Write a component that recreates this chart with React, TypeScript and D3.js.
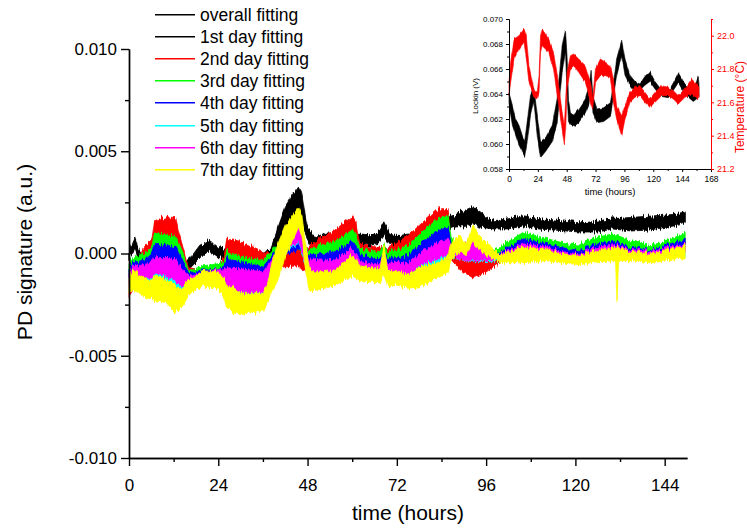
import React, { useEffect, useRef } from "react";
import * as d3 from "d3";

// each band point: [time (hours), low, high]
type Band = [number, number, number];

// main chart values are PD signature in units of 1e-3 a.u.
const MILLI = 0.001;

const overallFit: Band[] = [
  [0, -0.3, 0.1], [1, 0.1, 0.6], [1.5, 0.3, 0.8], [2.2, -0.1, 0.4], [3, -0.5, 0.0], [4.5, -0.6, -0.1],
  [8, -0.2, 0.3], [12, -0.3, 0.2], [14, -0.8, -0.3], [15.5, -0.85, -0.35], [17, -0.6, -0.1], [19, -0.1, 0.4],
  [21, 0.1, 0.6], [22, 0.15, 0.65], [23, 0.0, 0.45], [24, -0.2, 0.3], [26, -0.3, 0.2], [30, -0.4, 0.1],
  [37, -0.4, 0.1], [38.5, -0.3, 0.2], [40, 0.5, 1.3], [42, 1.3, 2.3], [44, 1.8, 2.9], [45.6, 2.2, 3.3],
  [46.3, 1.9, 3.1], [47.8, 0.7, 1.4], [49, 0.3, 0.9], [51, 0.3, 0.8], [53, 0.5, 1.0], [56, 0.5, 1.0],
  [60, 0.4, 0.9], [62.5, 0.45, 0.95], [65, 0.4, 0.9], [67, 0.5, 1.0], [68.5, 0.9, 1.55], [70, 0.45, 0.95],
  [72, 0.4, 0.85], [75, 0.5, 0.95], [80, 0.4, 0.9], [85, 0.4, 0.9], [86, 1.2, 1.8], [88, 1.3, 1.9],
  [90, 1.3, 1.9], [92.5, 1.5, 2.35], [94, 1.3, 1.9], [98, 1.2, 1.6], [102, 1.2, 1.7], [106, 1.35, 1.85],
  [110, 1.2, 1.7], [114, 1.15, 1.65], [121, 1.05, 1.5], [126, 1.05, 1.55], [130, 1.2, 1.75], [135, 1.1, 1.6],
  [140, 1.15, 1.65], [145, 1.3, 1.75], [148, 1.4, 1.9], [149.5, 1.5, 2.0],
];

const firstDayFit: Band[] = [
  [0, -0.25, 0.05], [1.5, 0.35, 0.7], [3, -0.45, -0.05], [8, -0.15, 0.25], [14, -0.75, -0.35], [16, -0.8, -0.4],
  [21, 0.15, 0.55], [24, -0.15, 0.25], [30, -0.35, 0.05], [38, -0.25, 0.15], [42, 1.4, 2.2], [45.6, 2.3, 3.2],
  [47.8, 0.8, 1.3], [50, 0.35, 0.8], [60, 0.45, 0.85], [67, 0.55, 0.95], [68.5, 0.95, 1.5], [70, 0.5, 0.9],
  [80, 0.45, 0.85], [85, 0.45, 0.85], [86, 1.25, 1.75], [92.5, 1.55, 2.3], [98, 1.25, 1.55], [106, 1.4, 1.8],
  [121, 1.1, 1.45], [130, 1.25, 1.7], [149.5, 1.55, 1.95],
];

const secondDayFit: Band[] = [
  [0, -2.1, -1.0], [1, -1.8, -0.8], [2.5, -1.2, -0.3], [4, -0.6, 0.3], [5, -0.5, 0.5], [6.2, -0.3, 0.7],
  [6.8, 0.6, 1.6], [10, 0.6, 1.8], [12.5, 0.5, 1.75], [13.3, 0.0, 1.1], [14.5, -0.8, 0.3], [16, -1.3, -0.7],
  [20, -1.5, -0.8], [24, -1.5, -0.7], [25.6, -1.2, -0.1], [26.3, -0.4, 0.7], [30, -0.5, 0.6], [36, -0.7, 0.1],
  [39, -0.7, 0.0], [42, -0.65, 0.2], [45.6, -0.6, 0.4], [47, -0.9, 0.0], [48.5, -0.3, 0.35], [50, -0.2, 0.6],
  [55, 0.1, 1.1], [60, 0.7, 1.8], [61, 0.5, 1.5], [62, -0.2, 0.45], [65, -0.3, 0.35], [67.5, -0.3, 0.3],
  [68.5, -0.2, 0.4], [69.5, -0.3, 0.25], [72, -0.2, 0.55], [75, 0.1, 0.87], [79, 0.5, 1.53], [83, 1.0, 2.18],
  [85.8, 1.2, 2.2], [86.6, -0.3, 0.2], [89, -0.8, -0.2], [92.5, -1.2, -0.4], [96, -0.9, -0.4], [100, -0.4, 0.0],
  [106, 0.0, 0.6], [112, -0.1, 0.5], [116, -0.2, 0.3], [121, -0.3, 0.2], [126, -0.1, 0.5], [130, 0.0, 0.6],
  [135, -0.1, 0.4], [140, -0.2, 0.3], [145, -0.1, 0.4], [149.5, 0.1, 0.7],
];

const thirdDayFit: Band[] = [
  [0, -1.2, -0.5], [1, -0.9, -0.2], [2.5, -0.8, -0.1], [5, -0.6, 0.1], [6.2, -0.5, 0.3], [6.8, 0.2, 1.0],
  [10, 0.1, 0.9], [12.5, 0.1, 0.85], [13.3, -0.3, 0.5], [14.5, -0.9, 0.0], [16, -1.2, -0.85], [20, -1.2, -0.6],
  [24, -1.1, -0.5], [25.6, -1.0, -0.4], [26.3, -0.6, 0.1], [30, -0.7, -0.15], [36, -0.8, -0.3], [39, -0.3, 0.25],
  [42, 0.0, 0.4], [45.6, 0.2, 0.6], [47, -0.3, 0.2], [48.5, -0.3, 0.15], [50, -0.5, 0.3], [55, -0.2, 0.55],
  [60, 0.3, 1.15], [61, 0.2, 1.0], [62, -0.3, 0.2], [65, -0.3, 0.15], [67.5, -0.3, 0.1], [68.5, -0.1, 0.5],
  [69.5, -0.4, 0.05], [72, -0.4, 0.2], [75, -0.2, 0.35], [79, 0.2, 1.1], [83, 0.6, 1.69], [85.8, 0.8, 1.9],
  [86.6, 0.3, 0.8], [89, -0.1, 0.25], [92.5, -0.2, 0.3], [96, -0.2, 0.1], [100, -0.1, 0.35], [106, 0.3, 1.04],
  [112, 0.1, 0.75], [116, 0.0, 0.55], [121, -0.1, 0.47], [126, 0.1, 0.8], [130, 0.3, 0.96], [135, 0.1, 0.63],
  [140, -0.1, 0.39], [145, 0.1, 0.63], [149.5, 0.3, 1.04],
];

const fourthDayFit: Band[] = [
  [0, -1.4, -0.7], [1, -1.1, -0.4], [2.5, -1.0, -0.4], [5, -0.9, -0.2], [6.2, -0.8, 0.0], [6.8, -0.4, 0.45],
  [10, -0.4, 0.4], [12.5, -0.4, 0.35], [13.3, -0.7, 0.1], [14.5, -1.1, -0.4], [16, -1.4, -0.95], [20, -1.3, -0.8],
  [24, -1.3, -0.8], [25.6, -1.2, -0.6], [26.3, -1.0, -0.25], [30, -1.1, -0.4], [36, -1.2, -0.65], [39, -0.6, 0.0],
  [42, -0.1, 0.5], [45.6, 0.2, 0.87], [47, -0.2, 0.3], [48.5, -0.7, -0.1], [50, -0.8, -0.1], [55, -0.5, 0.06],
  [60, -0.1, 0.6], [61, -0.2, 0.5], [62, -0.5, -0.1], [65, -0.5, -0.2], [67.5, -0.6, -0.25], [68.5, -0.4, 0.1],
  [69.5, -0.6, -0.25], [72, -0.7, -0.2], [75, -0.5, -0.1], [79, -0.3, 0.6], [83, 0.0, 1.1], [85.8, 0.2, 1.3],
  [86.6, 0.1, 0.5], [89, -0.2, 0.2], [92.5, -0.4, 0.0], [96, -0.3, 0.0], [100, -0.2, 0.1], [106, 0.1, 0.71],
  [112, -0.1, 0.5], [116, -0.1, 0.3], [121, -0.2, 0.15], [126, 0.0, 0.47], [130, 0.1, 0.63], [135, -0.1, 0.3],
  [140, -0.2, 0.15], [145, 0.0, 0.39], [149.5, 0.1, 0.71],
];

const fifthDayFit: Band[] = [
  [0, -1.7, -1.0], [1, -1.3, -0.6], [2.5, -1.3, -0.7], [5, -1.4, -0.8], [6.2, -1.5, -0.7], [6.8, -1.5, -0.4],
  [10, -1.5, -0.4], [12.5, -1.7, -0.5], [13.3, -1.8, -0.6], [14.5, -1.8, -0.9], [16, -1.6, -1.1], [20, -1.5, -1.0],
  [24, -1.5, -1.0], [25.6, -1.6, -0.9], [26.3, -1.9, -1.0], [30, -2.2, -1.3], [36, -2.1, -1.5], [39, -1.2, -0.5],
  [42, 0.1, 0.5], [45.6, 0.5, 1.2], [47, -0.4, 0.2], [48.5, -1.0, -0.5], [50, -1.2, -0.5], [55, -1.0, -0.5],
  [60, -0.6, 0.0], [61, -0.7, -0.1], [62, -0.9, -0.5], [65, -0.9, -0.55], [67.5, -1.0, -0.6], [68.5, -0.7, -0.2],
  [69.5, -1.0, -0.6], [72, -1.1, -0.8], [75, -1.15, -0.8], [79, -1.0, -0.5], [83, -0.6, 0.0], [85.8, -0.3, 0.3],
  [86.6, -0.2, 0.2], [89, -0.3, 0.1], [92.5, -0.4, 0.1], [96, -0.4, -0.1], [100, -0.4, -0.1], [106, -0.2, 0.2],
  [112, -0.3, 0.1], [116, -0.4, 0.0], [121, -0.5, -0.05], [126, -0.35, 0.2], [130, -0.3, 0.3], [135, -0.3, 0.1],
  [140, -0.4, 0.0], [145, -0.3, 0.2], [149.5, -0.2, 0.4],
];

const sixthDayFit: Band[] = [
  [0, -1.6, -0.9], [1, -1.3, -0.6], [2.5, -1.2, -0.6], [5, -1.2, -0.5], [6.2, -1.2, -0.4], [6.8, -1.0, -0.2],
  [10, -1.1, -0.2], [12.5, -1.4, -0.25], [13.3, -1.5, -0.5], [14.5, -1.5, -0.8], [16, -1.4, -1.1], [20, -1.4, -0.9],
  [24, -1.4, -0.8], [25.6, -1.5, -0.8], [26.3, -1.6, -0.7], [30, -1.9, -0.75], [36, -1.9, -0.9], [39, -1.0, -0.2],
  [42, 0.2, 0.9], [45.6, 0.55, 1.5], [47, -0.3, 0.5], [48.5, -1.0, -0.4], [50, -1.1, -0.3], [55, -1.0, -0.35],
  [60, -0.5, 0.25], [61, -0.6, 0.1], [62, -0.8, -0.4], [65, -0.8, -0.5], [67.5, -0.85, -0.5], [68.5, -0.6, 0.0],
  [69.5, -0.85, -0.5], [72, -0.9, -0.4], [75, -1.0, -0.5], [79, -0.5, 0.15], [83, -0.25, 0.55], [85.8, -0.1, 0.7],
  [86.6, -0.1, 0.4], [89, -0.3, 0.3], [92.5, -0.35, 0.7], [96, -0.35, 0.0], [100, -0.3, 0.0], [106, 0.0, 0.47],
  [112, -0.2, 0.35], [116, -0.2, 0.1], [121, -0.3, -0.02], [126, -0.1, 0.3], [130, 0.0, 0.47], [135, -0.2, 0.2],
  [140, -0.25, 0.1], [145, -0.1, 0.25], [149.5, 0.0, 0.47],
];

const seventhDayFit: Band[] = [
  [0, -1.9, -1.1], [1, -1.8, -0.8], [2.5, -1.9, -1.0], [5, -2.2, -1.3], [6.2, -2.2, -1.3], [6.8, -2.3, -1.1],
  [10, -2.4, -1.25], [12.5, -2.9, -1.6], [13.3, -2.8, -1.7], [14.5, -2.6, -1.6], [16, -2.0, -1.3], [20, -1.6, -0.85],
  [24, -1.7, -0.9], [25.6, -2.2, -1.2], [26.3, -2.7, -1.5], [30, -3.0, -1.95], [36, -2.8, -1.95], [37, -2.5, -1.6],
  [38.5, -1.8, -0.45], [40.2, -1.2, 0.55], [42, -0.2, 1.36], [45.6, 1.3, 2.26], [46.5, 0.8, 1.9], [47.3, -0.6, 0.6],
  [48.5, -1.8, -0.7], [50, -1.8, -0.9], [55, -1.6, -0.85], [60, -1.1, -0.1], [61, -1.2, -0.2], [62, -1.3, -0.6],
  [65, -1.4, -0.7], [67.5, -1.5, -0.75], [68.5, -1.0, 0.45], [69.5, -1.5, -0.8], [72, -1.6, -0.9], [75, -1.7, -1.0],
  [79, -1.6, -0.6], [83, -1.15, -0.45], [85.8, -0.9, -0.15], [86.6, -0.3, 0.5], [89, 0.1, 0.9], [90.5, -0.1, 0.4],
  [92.5, 0.6, 1.4], [94, 0.2, 0.9], [96, -0.1, 0.5], [100, -0.45, -0.05], [106, -0.45, 0.3], [112, -0.35, 0.22],
  [116, -0.45, 0.0], [121, -0.55, -0.1], [126, -0.4, 0.15], [130.8, -0.35, 0.35], [131.2, -2.4, 0.3],
  [131.6, -0.35, 0.3], [135, -0.35, 0.1], [140, -0.45, -0.02], [145, -0.35, 0.14], [149.5, -0.26, 0.39],
];

const legendLabels = [
  "overall fitting", "1st day fitting", "2nd day fitting", "3rd day fitting",
  "4th day fitting", "5th day fitting", "6th day fitting", "7th day fitting",
];
const seriesColors = ["#000000", "#000000", "#ff0000", "#00ff00", "#0000ff", "#00ffff", "#ff00ff", "#ffff00"];

const xTicks = [0, 24, 48, 72, 96, 120, 144];
const xMinorTicks = [12, 36, 60, 84, 108, 132];
const yTicks = [-0.01, -0.005, 0, 0.005, 0.01];
const yMinorTicks = [-0.0075, -0.0025, 0.0025, 0.0075];

// inset: lockin voltage (V) and temperature (°C)
const lockin: Band[] = [
  [0, 0.0632, 0.0641], [2.8, 0.0615, 0.0631], [5.5, 0.0607, 0.062], [8.3, 0.0599, 0.0615], [11, 0.0594, 0.0607],
  [13, 0.059, 0.0602], [15.2, 0.0602, 0.0618], [17.9, 0.0623, 0.0639], [20.7, 0.0634, 0.0645], [23.5, 0.0607, 0.0623],
  [26.2, 0.0589, 0.0602], [30.4, 0.0594, 0.0605], [36, 0.0602, 0.0615], [40, 0.0617, 0.0636], [44.2, 0.0657, 0.0679],
  [47, 0.0674, 0.0691], [48.3, 0.064, 0.067], [49.5, 0.0618, 0.0635], [51.1, 0.0615, 0.0626], [53.8, 0.0614, 0.0623],
  [58, 0.0617, 0.0628], [63.5, 0.0625, 0.0636], [66.5, 0.0632, 0.0645], [68.3, 0.0648, 0.0659], [69.8, 0.0625, 0.0638],
  [73.2, 0.0617, 0.0628], [78.7, 0.0618, 0.0629], [84.3, 0.0622, 0.0633], [85.4, 0.0628, 0.0639], [89.5, 0.0655, 0.0668],
  [93.7, 0.0671, 0.0683], [96.5, 0.0655, 0.0668], [100.6, 0.0647, 0.0655], [104.8, 0.0642, 0.065], [108.9, 0.0643, 0.0648],
  [113, 0.0647, 0.0654], [117.2, 0.065, 0.0658], [121.4, 0.0644, 0.065], [127, 0.0638, 0.0643], [132.5, 0.0637, 0.0642],
  [136.7, 0.0643, 0.0649], [140.8, 0.0649, 0.0657], [146.3, 0.064, 0.0648], [153.2, 0.0634, 0.0642], [156, 0.0636, 0.065],
  [157.4, 0.0641, 0.0654], [158, 0.0638, 0.0648],
];

const temperature: Band[] = [
  [0, 21.64, 21.72], [1.4, 21.72, 21.84], [4.2, 21.86, 21.98], [8.3, 21.92, 22.0], [12.5, 21.96, 22.04],
  [14.4, 21.86, 22.0], [16.6, 21.72, 21.82], [20.7, 21.63, 21.68], [23.5, 21.62, 21.66], [25, 21.66, 21.76],
  [26.2, 21.9, 22.0], [27.5, 21.94, 22.04], [33, 21.9, 21.98], [37, 21.8, 21.9], [41, 21.6, 21.72],
  [43.8, 21.46, 21.56], [46, 21.35, 21.46], [47.2, 21.45, 21.62], [48.3, 21.68, 21.78], [51.1, 21.8, 21.88],
  [53.8, 21.82, 21.89], [58, 21.78, 21.86], [63.5, 21.72, 21.82], [67.7, 21.6, 21.72], [69.6, 21.56, 21.62],
  [71.9, 21.72, 21.8], [76, 21.76, 21.86], [80.2, 21.76, 21.84], [84.3, 21.75, 21.82], [86.8, 21.6, 21.74],
  [89.5, 21.5, 21.58], [93.7, 21.4, 21.52], [96.5, 21.5, 21.58], [100.6, 21.6, 21.66], [104.8, 21.63, 21.69],
  [108.9, 21.64, 21.7], [113, 21.6, 21.66], [117.2, 21.57, 21.62], [121.4, 21.6, 21.66], [127, 21.64, 21.7],
  [132.5, 21.64, 21.69], [136.7, 21.62, 21.67], [140.8, 21.59, 21.64], [146.3, 21.63, 21.68], [151.8, 21.65, 21.74],
  [157.4, 21.62, 21.7], [158, 21.63, 21.69],
];

const insetXTicks = [0, 24, 48, 72, 96, 120, 144, 168];
const insetXMinor = [12, 36, 60, 84, 108, 132, 156];
const lockinTicks = [0.058, 0.06, 0.062, 0.064, 0.066, 0.068, 0.07];
const lockinMinor = [0.059, 0.061, 0.063, 0.065, 0.067, 0.069];
const tempTicks = [21.2, 21.4, 21.6, 21.8, 22.0];
const tempMinor = [21.3, 21.5, 21.7, 21.9, 22.1];

const FONT = "'Liberation Sans', Arial, Helvetica, sans-serif";

const App = () => {
  const ref = useRef<SVGSVGElement>(null);

  useEffect(() => {
    const svg = d3.select(ref.current);
    svg.selectAll("*").remove();

    // jagged edge look of the measured traces (vertical jitter only)
    const defs = svg.append("defs");
    const addJitter = (id, freq, scale, region) => {
      const f = defs
        .append("filter")
        .attr("id", id)
        .attr("filterUnits", "userSpaceOnUse")
        .attr("x", region[0])
        .attr("y", region[1])
        .attr("width", region[2])
        .attr("height", region[3])
        .attr("color-interpolation-filters", "sRGB");
      f.append("feTurbulence")
        .attr("type", "fractalNoise")
        .attr("baseFrequency", freq)
        .attr("numOctaves", 2)
        .attr("seed", 3)
        .attr("result", "noise");
      f.append("feColorMatrix")
        .attr("in", "noise")
        .attr("type", "matrix")
        .attr("values", "0 0 0 0 0.5  0 1 0 0 0  0 0 1 0 0  0 0 0 0 1")
        .attr("result", "vnoise");
      f.append("feDisplacementMap")
        .attr("in", "SourceGraphic")
        .attr("in2", "vnoise")
        .attr("scale", scale)
        .attr("xChannelSelector", "R")
        .attr("yChannelSelector", "G");
    };
    addJitter("jitter", "0.7 0.03", 9, [125, 176, 570, 160]);
    addJitter("jitterSmall", "0.7 0.05", 4, [505, 15, 210, 158]);

    // ---- main plot ----
    const x = d3.scaleLinear().domain([0, 150]).range([129, 687]);
    const y = d3.scaleLinear().domain([-0.01, 0.01]).range([458, 49]);

    const area = d3
      .area<Band>()
      .x((d) => x(d[0]))
      .y0((d) => y(d[1] * MILLI))
      .y1((d) => y(d[2] * MILLI));

    const series = [overallFit, firstDayFit, secondDayFit, thirdDayFit, fourthDayFit, fifthDayFit, sixthDayFit, seventhDayFit];

    svg
      .append("g")
      .attr("filter", "url(#jitter)")
      .selectAll("path")
      .data(series)
      .join("path")
      .attr("d", (d) => area(d))
      .attr("fill", (d, i) => seriesColors[i])
      .attr("stroke", (d, i) => seriesColors[i])
      .attr("stroke-width", 0.8)
      .attr("stroke-linejoin", "round");

    const styleAxis = (g, size, width) => {
      g.attr("font-family", FONT).attr("font-size", size);
      g.selectAll("path, line").attr("stroke-width", width);
    };

    // x axis
    svg
      .append("g")
      .attr("transform", "translate(0,458)")
      .call(d3.axisBottom(x).tickValues(xTicks).tickSize(8).tickSizeOuter(0).tickPadding(13).tickFormat((d) => String(d)))
      .call((g) => styleAxis(g, 17, 1.4));
    svg
      .append("g")
      .attr("transform", "translate(0,458)")
      .call(d3.axisBottom(x).tickValues(xMinorTicks).tickSize(4).tickSizeOuter(0).tickFormat(() => ""))
      .call((g) => styleAxis(g, 17, 1.4));

    // y axis
    svg
      .append("g")
      .attr("transform", "translate(129,0)")
      .call(d3.axisLeft(y).tickValues(yTicks).tickSize(8).tickSizeOuter(0).tickPadding(4).tickFormat((d) => (+d).toFixed(3)))
      .call((g) => styleAxis(g, 17, 1.4));
    svg
      .append("g")
      .attr("transform", "translate(129,0)")
      .call(d3.axisLeft(y).tickValues(yMinorTicks).tickSize(4).tickSizeOuter(0).tickFormat(() => ""))
      .call((g) => styleAxis(g, 17, 1.4));

    // axis titles
    svg
      .append("text")
      .attr("x", 408)
      .attr("y", 520)
      .attr("text-anchor", "middle")
      .attr("font-family", FONT)
      .attr("font-size", 21)
      .text("time (hours)");

    svg
      .append("text")
      .attr("transform", "translate(32,252) rotate(-90)")
      .attr("text-anchor", "middle")
      .attr("font-family", FONT)
      .attr("font-size", 21)
      .text("PD signature (a.u.)");

    // legend
    const legend = svg.append("g");
    legendLabels.forEach((label, i) => {
      const ly = Math.round(15 + i * 22.1);
      legend
        .append("rect")
        .attr("x", 155)
        .attr("y", ly - 1)
        .attr("width", 40)
        .attr("height", 1.5)
        .attr("fill", seriesColors[i]);
      legend
        .append("text")
        .attr("x", 200)
        .attr("y", ly)
        .attr("dy", "0.36em")
        .attr("font-family", FONT)
        .attr("font-size", 17.5)
        .text(label);
    });

    // ---- inset ----
    const ix = d3.scaleLinear().domain([0, 168]).range([509, 711]);
    const iyL = d3.scaleLinear().domain([0.058, 0.07]).range([169, 19]);
    const iyT = d3.scaleLinear().domain([21.2, 22.1]).range([169, 19]);

    const lockinArea = d3
      .area<Band>()
      .x((d) => ix(d[0]))
      .y0((d) => iyL(d[1]))
      .y1((d) => iyL(d[2]));
    const tempArea = d3
      .area<Band>()
      .x((d) => ix(d[0]))
      .y0((d) => iyT(d[1]))
      .y1((d) => iyT(d[2]));

    const insetMarks = svg.append("g").attr("filter", "url(#jitterSmall)");
    insetMarks.append("path").attr("d", lockinArea(lockin)).attr("fill", "#000").attr("stroke", "#000").attr("stroke-width", 0.6);
    insetMarks.append("path").attr("d", tempArea(temperature)).attr("fill", "#ff0000").attr("stroke", "#ff0000").attr("stroke-width", 0.6);

    svg
      .append("g")
      .attr("transform", "translate(0,169)")
      .call(d3.axisBottom(ix).tickValues(insetXTicks).tickSize(3).tickSizeOuter(0).tickPadding(4).tickFormat((d) => String(d)))
      .call((g) => styleAxis(g, 8.5, 1));
    svg
      .append("g")
      .attr("transform", "translate(0,169)")
      .call(d3.axisBottom(ix).tickValues(insetXMinor).tickSize(2).tickSizeOuter(0).tickFormat(() => ""))
      .call((g) => styleAxis(g, 8.5, 1));

    svg
      .append("g")
      .attr("transform", "translate(509,0)")
      .call(d3.axisLeft(iyL).tickValues(lockinTicks).tickSize(3).tickSizeOuter(0).tickPadding(3).tickFormat((d) => (+d).toFixed(3)))
      .call((g) => styleAxis(g, 8, 1));
    svg
      .append("g")
      .attr("transform", "translate(509,0)")
      .call(d3.axisLeft(iyL).tickValues(lockinMinor).tickSize(2).tickSizeOuter(0).tickFormat(() => ""))
      .call((g) => styleAxis(g, 8, 1));

    svg
      .append("g")
      .attr("transform", "translate(711,0)")
      .attr("color", "#ff0000")
      .call(d3.axisRight(iyT).tickValues(tempTicks).tickSize(3).tickSizeOuter(0).tickPadding(3).tickFormat((d) => (+d).toFixed(1)))
      .call((g) => styleAxis(g, 9, 1));
    svg
      .append("g")
      .attr("transform", "translate(711,0)")
      .attr("color", "#ff0000")
      .call(d3.axisRight(iyT).tickValues(tempMinor).tickSize(2).tickSizeOuter(0).tickFormat(() => ""))
      .call((g) => styleAxis(g, 9, 1));

    svg
      .append("text")
      .attr("x", 610)
      .attr("y", 195)
      .attr("text-anchor", "middle")
      .attr("font-family", FONT)
      .attr("font-size", 9.5)
      .text("time (hours)");

    svg
      .append("text")
      .attr("transform", "translate(478,96) rotate(-90)")
      .attr("text-anchor", "middle")
      .attr("font-family", FONT)
      .attr("font-size", 8)
      .text("Lockin (V)");

    svg
      .append("text")
      .attr("transform", "translate(744,107) rotate(-90)")
      .attr("text-anchor", "middle")
      .attr("font-family", FONT)
      .attr("font-size", 12)
      .attr("fill", "#ff0000")
      .text("Temperature (°C)");
  }, []);

  return (
    <svg
      ref={ref}
      width={747}
      height={529}
      style={{ position: "absolute", left: 0, top: 0, background: "#fff" }}
    />
  );
};

export default App;
